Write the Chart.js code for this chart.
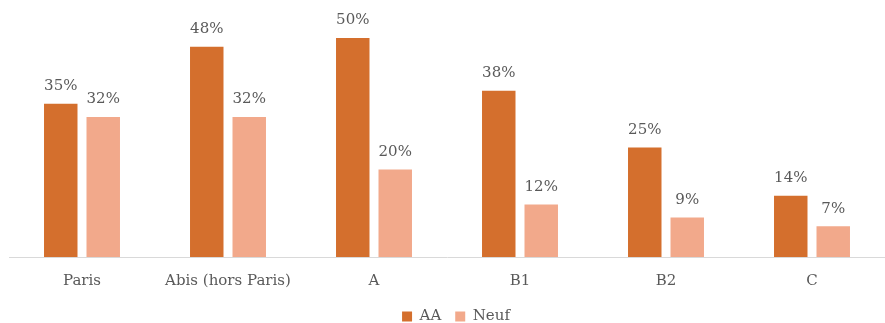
<!DOCTYPE html>
<html>
<head>
<meta charset="utf-8">
<script src="https://cdn.jsdelivr.net/npm/chart.js@4/dist/chart.umd.min.js"></script>
<style>
  html, body { margin: 0; padding: 0; background: #fff; overflow: hidden; }
  #wrap { width: 885px; height: 323px; position: relative; overflow: hidden; }
  #inner { width: 885px; height: 344px; position: absolute; left: 0; top: 0; }
</style>
</head>
<body>
<div id="wrap"><div id="inner"><canvas id="chart"></canvas></div></div>
<script>
// categories and series (percent)
const categories = ['Paris', 'Abis (hors Paris)', 'A', 'B1', 'B2', 'C'];
const valuesAA = [35, 48, 50, 38, 25, 14];
const valuesNeuf = [32, 32, 20, 12, 9, 7];

const couleurAA = '#D46F2D';
const couleurNeuf = '#F2A98B';
const texteGris = '#595959';
const police = "'DejaVu Serif', 'Liberation Serif', serif";

/* ==============================
   ETIQUETTES DE DONNEES
================================ */
const etiquettes = {
    id: 'etiquettes',
    afterDatasetsDraw(chart) {
        const ctx = chart.ctx;
        ctx.save();
        ctx.font = '15px ' + police;
        ctx.fillStyle = texteGris;
        ctx.textAlign = 'center';
        ctx.textBaseline = 'bottom';
        chart.data.datasets.forEach((ds, i) => {
            chart.getDatasetMeta(i).data.forEach((bar, j) => {
                ctx.fillText(ds.data[j] + '%', bar.x, bar.y - 10);
            });
        });
        ctx.restore();
    }
};

/* ==============================
   POSITION DE LA LEGENDE
================================ */
const decalageLegende = {
    id: 'decalageLegende',
    afterLayout(chart) {
        const lg = chart.legend;
        if (!lg) return;
        lg.top -= 10;
        lg.bottom -= 10;
        lg.left += 9;
        lg.right += 9;
    }
};

new Chart(document.getElementById('chart'), {
    type: 'bar',
    data: {
        labels: categories,
        datasets: [
            { label: 'AA', data: valuesAA, backgroundColor: couleurAA },
            { label: 'Neuf', data: valuesNeuf, backgroundColor: couleurNeuf }
        ]
    },
    options: {
        responsive: true,
        maintainAspectRatio: false,
        animation: false,
        categoryPercentage: 0.582,
        barPercentage: 0.788,
        layout: { padding: { left: 9, right: 0, top: 0, bottom: 0 } },
        plugins: {
            legend: {
                position: 'bottom',
                labels: {
                    boxWidth: 10,
                    boxHeight: 10,
                    padding: 14,
                    color: texteGris,
                    font: { family: police, size: 15 }
                }
            },
            tooltip: { enabled: false }
        },
        scales: {
            x: {
                grid: { display: false, drawTicks: false },
                border: { display: true, color: '#D9D9D9', width: 1 },
                ticks: {
                    color: texteGris,
                    padding: 15,
                    font: { family: police, size: 15 }
                }
            },
            y: {
                min: 0,
                max: 58.7,
                display: false
            }
        }
    },
    plugins: [etiquettes, decalageLegende]
});
</script>
</body>
</html>
